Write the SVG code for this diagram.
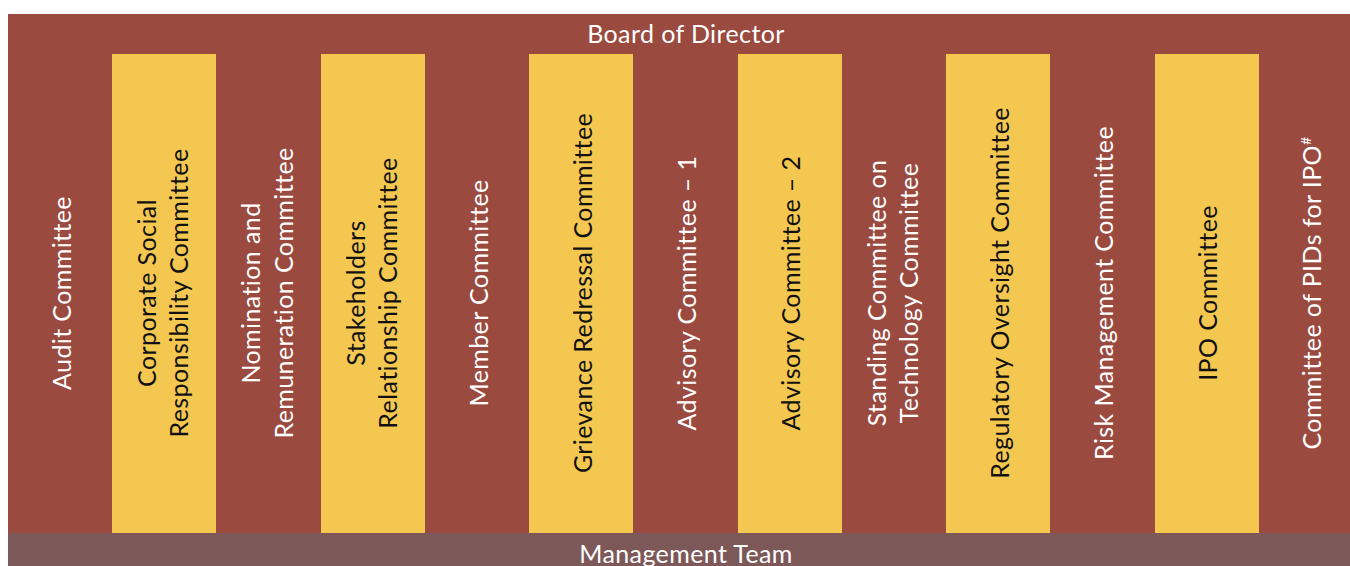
<svg xmlns="http://www.w3.org/2000/svg" width="1350" height="566" viewBox="0 0 1350 566">
  <style>
    text { font-family: Lato, "Open Sans", "Liberation Sans", sans-serif; font-size: 25px; letter-spacing: 0.4px; text-anchor: middle; }
    .w { fill: #ffffff; }
    .k { fill: #111111; }
    .red { fill: #9A4A3F; }
    .yel { fill: #F4C751; }
    .mgmt { fill: #7C5858; }
  </style>
  <rect x="0" y="0" width="1350" height="566" fill="#ffffff"/>
  <g id="board">
    <rect class="red" x="8" y="14" width="1342" height="519"/>
    <text class="w" x="686" y="43">Board of Director</text>
  </g>
  <g id="management">
    <rect class="mgmt" x="8" y="533" width="1342" height="33"/>
    <text class="w" x="686" y="563">Management Team</text>
  </g>
  <g id="committees">
    <g id="c1"><text class="w" transform="translate(71,293) rotate(-90)">Audit Committee</text></g>
    <g id="c2"><rect class="yel" x="112" y="54" width="104" height="479"/>
      <text class="k" transform="translate(155.5,293) rotate(-90)"><tspan x="0" y="0">Corporate Social</tspan><tspan x="0" y="32.5">Responsibility Committee</tspan></text></g>
    <g id="c3"><text class="w" transform="translate(260,293) rotate(-90)"><tspan x="0" y="0">Nomination and</tspan><tspan x="0" y="32.5">Remuneration Committee</tspan></text></g>
    <g id="c4"><rect class="yel" x="321" y="54" width="104" height="479"/>
      <text class="k" transform="translate(364.5,293) rotate(-90)"><tspan x="0" y="0">Stakeholders</tspan><tspan x="0" y="32.5">Relationship Committee</tspan></text></g>
    <g id="c5"><text class="w" transform="translate(488,293) rotate(-90)">Member Committee</text></g>
    <g id="c6"><rect class="yel" x="529" y="54" width="104" height="479"/>
      <text class="k" transform="translate(592,293) rotate(-90)">Grievance Redressal Committee</text></g>
    <g id="c7"><text class="w" transform="translate(696,293) rotate(-90)">Advisory Committee – 1</text></g>
    <g id="c8"><rect class="yel" x="738" y="54" width="104" height="479"/>
      <text class="k" transform="translate(800,293) rotate(-90)">Advisory Committee – 2</text></g>
    <g id="c9"><text class="w" transform="translate(885.5,293) rotate(-90)"><tspan x="0" y="0">Standing Committee on</tspan><tspan x="0" y="32.5">Technology Committee</tspan></text></g>
    <g id="c10"><rect class="yel" x="946" y="54" width="104" height="479"/>
      <text class="k" transform="translate(1009,293) rotate(-90)">Regulatory Oversight Committee</text></g>
    <g id="c11"><text class="w" transform="translate(1113,293) rotate(-90)">Risk Management Committee</text></g>
    <g id="c12"><rect class="yel" x="1155" y="54" width="104" height="479"/>
      <text class="k" transform="translate(1217,293) rotate(-90)">IPO Committee</text></g>
    <g id="c13"><text class="w" transform="translate(1321,293) rotate(-90)">Committee of PIDs for IPO<tspan font-size="14" dy="-10">#</tspan></text></g>
  </g>
</svg>
